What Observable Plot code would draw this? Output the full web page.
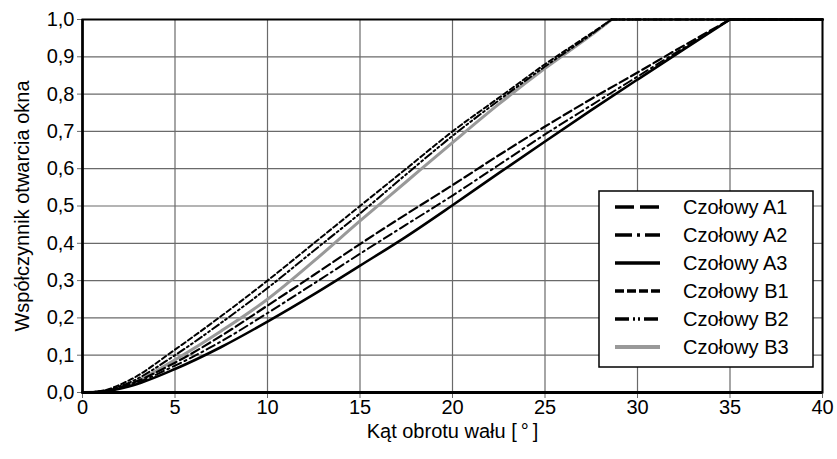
<!DOCTYPE html>
<html>
<head>
<meta charset="utf-8">
<script src="https://cdn.jsdelivr.net/npm/d3@7"></script>
<script src="https://cdn.jsdelivr.net/npm/@observablehq/plot@0.6"></script>
<style>
  html, body { margin: 0; padding: 0; background: #fff; }
  #chart { position: relative; width: 837px; height: 459px; }
  svg { font-family: "Liberation Sans", Arial, sans-serif; }
  svg text { font-size: 20px; }
</style>
</head>
<body>
<div id="chart"></div>
<script>
// ---- data ----
const angleA = [0, 1, 2.5, 5, 7.5, 10, 12.5, 15, 17.5, 20, 22.5, 25, 27.5, 30, 32.5, 35, 40];
const valA1  = [0, 0.003, 0.022, 0.08, 0.152, 0.233, 0.315, 0.398, 0.478, 0.556, 0.636, 0.713, 0.787, 0.858, 0.93, 1.0, 1.0];
const valA2  = [0, 0.002, 0.019, 0.072, 0.137, 0.213, 0.292, 0.372, 0.45, 0.528, 0.61, 0.692, 0.77, 0.847, 0.924, 1.0, 1.0];
const valA3  = [0, 0.002, 0.016, 0.063, 0.122, 0.19, 0.263, 0.34, 0.418, 0.502, 0.588, 0.673, 0.757, 0.839, 0.92, 1.0, 1.0];

const angleB = [0, 1, 2.5, 5, 7.5, 10, 12.5, 15, 17.5, 20, 22.5, 25, 27.5, 28.6, 40];
const valB1  = [0, 0.004, 0.032, 0.115, 0.205, 0.30, 0.40, 0.50, 0.60, 0.70, 0.79, 0.88, 0.963, 1.0, 1.0];
const valB2  = [0, 0.003, 0.026, 0.10, 0.187, 0.28, 0.38, 0.48, 0.585, 0.688, 0.783, 0.874, 0.96, 1.0, 1.0];
const valB3  = [0, 0.002, 0.021, 0.088, 0.165, 0.25, 0.352, 0.46, 0.565, 0.67, 0.773, 0.869, 0.958, 1.0, 1.0];

const seriesNames = ["Czołowy A1", "Czołowy A2", "Czołowy A3", "Czołowy B1", "Czołowy B2", "Czołowy B3"];
const xTicks = [0, 5, 10, 15, 20, 25, 30, 35, 40];
const yTicks = [0, 0.1, 0.2, 0.3, 0.4, 0.5, 0.6, 0.7, 0.8, 0.9, 1.0];
const xLabel = "Kąt obrotu wału [\u2009°\u2009]";
const yLabel = "Współczynnik otwarcia okna";

// ---- styles ----
const styles = {
  "Czołowy A1": {stroke: "#000", width: 2.2, dash: "9,4", lw: 3.5, ldash: "19,6"},
  "Czołowy A2": {stroke: "#000", width: 2.0, dash: "9,4,2,4", lw: 3.5, ldash: "17,5,3,5"},
  "Czołowy A3": {stroke: "#000", width: 2.6, dash: null, lw: 3.5, ldash: null},
  "Czołowy B1": {stroke: "#000", width: 2.0, dash: "5,3", lw: 3.5, ldash: "9,3"},
  "Czołowy B2": {stroke: "#000", width: 2.0, dash: "8,3,2,3,2,3", lw: 3.5, ldash: "14,4,2,3,2,4"},
  "Czołowy B3": {stroke: "#999", width: 3.0, dash: null, lw: 4, ldash: null}
};

function table(xs, ys, name) { return xs.map((x, i) => ({x, y: ys[i], name})); }
const series = {
  "Czołowy A1": table(angleA, valA1, "Czołowy A1"),
  "Czołowy A2": table(angleA, valA2, "Czołowy A2"),
  "Czołowy A3": table(angleA, valA3, "Czołowy A3"),
  "Czołowy B1": table(angleB, valB1, "Czołowy B1"),
  "Czołowy B2": table(angleB, valB2, "Czołowy B2"),
  "Czołowy B3": table(angleB, valB3, "Czołowy B3")
};

const drawOrder = ["Czołowy B3", "Czołowy A3", "Czołowy A2", "Czołowy A1", "Czołowy B2", "Czołowy B1"];
const lineMarks = drawOrder.flatMap(n => {
  const data = series[n];
  const reach = data.find(d => d.y >= 1).x;
  const rising = data.filter(d => d.x <= reach);
  const flat = data.filter(d => d.x >= reach);
  const opts = {
    x: "x", y: "y",
    stroke: styles[n].stroke, strokeWidth: styles[n].width,
    strokeDasharray: styles[n].dash || undefined
  };
  return [
    Plot.line(rising, {...opts, curve: "monotone-x"}),
    Plot.line(flat, {...opts, curve: "linear"})
  ];
});

const fmtY = d => d3.format(".1f")(d).replace(".", ",");

const plot = Plot.plot({
  width: 837,
  height: 459,
  marginLeft: 82,
  marginRight: 15,
  marginTop: 19,
  marginBottom: 67,
  style: {fontFamily: "'Liberation Sans', Arial, sans-serif", fontSize: "20px", color: "#000", background: "#fff"},
  x: {domain: [0, 40]},
  y: {domain: [0, 1]},
  marks: [
    Plot.gridX(xTicks, {stroke: "#6a6a6a", strokeOpacity: 1, strokeWidth: 1.2}),
    Plot.gridY(yTicks, {stroke: "#6a6a6a", strokeOpacity: 1, strokeWidth: 1.2}),
    Plot.axisX(xTicks, {label: null, tickSize: 6, tickPadding: 1, fontSize: 20, stroke: "#6a6a6a"}),
    Plot.axisY(yTicks, {label: null, tickSize: 5, tickPadding: 3, fontSize: 20, tickFormat: fmtY, stroke: "#6a6a6a"}),
    ...lineMarks,
    Plot.frame({stroke: "#000", strokeWidth: 2}),
    Plot.ruleY([0], {stroke: "#000", strokeWidth: 3}),
    Plot.ruleX([0], {stroke: "#000", strokeWidth: 2.5}),
    Plot.text([xLabel], {frameAnchor: "bottom", dy: 45, text: d => d, fontSize: 20, fill: "#000", textAnchor: "middle"}),
    Plot.text([yLabel], {frameAnchor: "left", dx: -60, rotate: -90, text: d => d, fontSize: 20, fill: "#000", textAnchor: "middle"})
  ]
});

document.getElementById("chart").appendChild(plot);

// ---- legend (inside the plot area, lower right) ----
const svg = d3.select(plot);
const lg = svg.append("g").attr("class", "legend").attr("text-anchor", "start");
lg.append("rect")
  .attr("x", 599).attr("y", 191).attr("width", 214).attr("height", 176)
  .attr("fill", "#fff").attr("stroke", "#000").attr("stroke-width", 1.5);
seriesNames.forEach((n, i) => {
  const cy = 207 + i * 28;
  const s = styles[n];
  lg.append("line")
    .attr("x1", 615).attr("x2", 660).attr("y1", cy).attr("y2", cy)
    .attr("stroke", s.stroke).attr("stroke-width", s.lw)
    .attr("stroke-dasharray", s.ldash);
  lg.append("text")
    .attr("x", 683).attr("y", cy).attr("dy", "0.35em")
    .attr("text-anchor", "start")
    .attr("fill", "#000")
    .text(n);
});
</script>
</body>
</html>
